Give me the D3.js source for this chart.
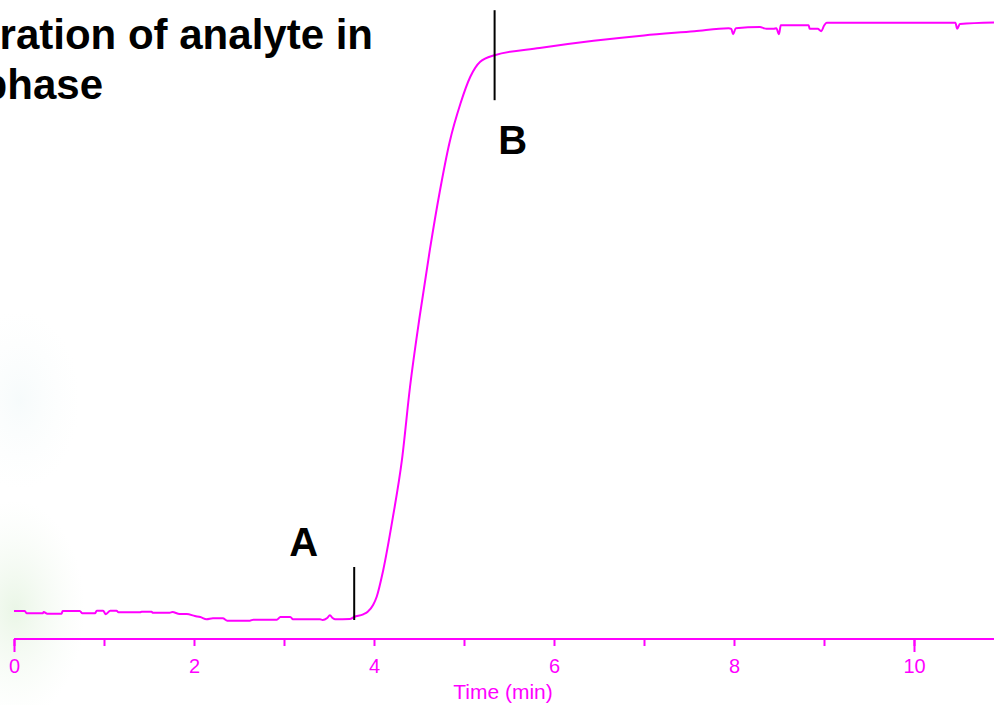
<!DOCTYPE html>
<html><head><meta charset="utf-8">
<script src="https://cdn.jsdelivr.net/npm/d3@7"></script>
<style>html,body{margin:0;padding:0;background:#fff;overflow:hidden}svg{display:block}</style>
</head><body>
<svg id="c" width="994" height="705"></svg>
<script>
// Time (min)
const times = [0,0.12,0.14,0.32,0.33,0.37,0.53,0.54,0.73,0.76,0.9,0.92,0.99,1.02,1.07,1.14,1.16,1.4,1.42,1.53,1.54,1.73,1.76,1.84,1.92,2.01,2.07,2.14,2.21,2.32,2.37,2.62,2.66,2.92,2.96,3.07,3.1,3.4,3.43,3.48,3.51,3.54,3.57,3.73,3.78,3.88,3.93,3.99,4.03,4.1,4.21,4.31,4.4,4.51,4.62,4.73,4.84,4.96,5.07,5.18,5.34,5.84,6.44,7.0,7.56,7.94,7.97,7.99,8.02,8.29,8.33,8.36,8.44,8.47,8.5,8.52,8.83,8.84,8.93,8.97,9.0,9.03,10.46,10.48,10.51,10.89];
// Detector signal (arbitrary units)
const signal = [4.67,4.67,4.28,4.28,4.5,4.22,4.22,4.67,4.67,4.28,4.28,4.72,4.72,4.12,4.72,4.72,4.45,4.45,4.55,4.55,4.38,4.38,4.5,4.17,4.17,3.83,3.67,3.28,3.45,3.45,3.05,3.05,3.22,3.22,3.67,3.67,3.28,3.28,3.17,3.5,3.95,3.5,3.28,3.33,3.67,4.12,4.55,5.67,7.05,11.3,20.3,29.8,42,54,64.8,74.5,82.8,89.2,93.7,96.2,97.3,98.5,99.7,100.6,101.3,101.8,101.7,100.8,101.8,102,101.8,101.7,101.7,101.8,100.8,102.3,102.3,101.7,101.7,101.3,102.2,102.7,102.7,101.7,102.5,102.75];
const majorTicks = [0,10];
const minorTicks = [0,1,2,3,4,5,6,7,8,9,10];
const tickLabels = [0,2,4,6,8,10];
const xTitle = "Time (min)";
const titleLines = ["ration of analyte in","phase"];
const markerNames = ["A","B"];
const markerTimes = [3.78,5.34];
const markerLow = [3.17,89.8];
const markerHigh = [12,104.8];
const markerLabelTimes = [3.22,5.54];
const markerLabelValues = [13.8,80.8];

const svg = d3.select("#c");
const MAG = "#ff00ff";
const FONT = "Liberation Sans, Arial, sans-serif";
const x = d3.scaleLinear().domain([0,10.9]).range([14,995]);
const y = d3.scaleLinear().domain([0,105]).range([639,9]);

// faint decorative background
const defs = svg.append("defs");
const g1 = defs.append("radialGradient").attr("id","bg1");
g1.append("stop").attr("offset","0%").attr("stop-color","#dcf0d6").attr("stop-opacity",0.6);
g1.append("stop").attr("offset","100%").attr("stop-color","#eef8ec").attr("stop-opacity",0);
svg.append("ellipse").attr("cx",15).attr("cy",610).attr("rx",70).attr("ry",110).attr("fill","url(#bg1)");
const g2 = defs.append("radialGradient").attr("id","bg2");
g2.append("stop").attr("offset","0%").attr("stop-color","#eef7f8").attr("stop-opacity",0.5);
g2.append("stop").attr("offset","100%").attr("stop-color","#f7fbfa").attr("stop-opacity",0);
svg.append("ellipse").attr("cx",20).attr("cy",400).attr("rx",60).attr("ry",90).attr("fill","url(#bg2)");

// title
svg.append("g").selectAll("text").data(titleLines).join("text")
  .attr("x",(d,i)=> i===0?373:103).attr("y",(d,i)=>49+i*50)
  .attr("text-anchor","end")
  .attr("font-family",FONT).attr("font-weight","bold").attr("font-size",42)
  .attr("fill","#000").text(d=>d);

// axis
const ax = svg.append("g").attr("transform","translate(0,639)");
ax.call(d3.axisBottom(x).tickValues(minorTicks).tickSize(7).tickFormat(""));
ax.call(g=>g.select(".domain").remove());
ax.append("line").attr("x1",x(0)).attr("x2",994).attr("stroke",MAG).attr("stroke-width",2);
ax.selectAll(".tick line").attr("stroke",MAG).attr("stroke-width",2);
const ax2 = svg.append("g").attr("transform","translate(0,639)");
ax2.call(d3.axisBottom(x).tickValues(majorTicks).tickSize(13).tickFormat(""));
ax2.select(".domain").remove();
ax2.selectAll(".tick line").attr("stroke",MAG).attr("stroke-width",2);
const ax3 = svg.append("g").attr("transform","translate(0,639)");
ax3.call(d3.axisBottom(x).tickValues(tickLabels).tickSize(0).tickPadding(20).tickFormat(d3.format("d")));
ax3.select(".domain").remove();
ax3.selectAll("text").attr("fill",MAG).attr("font-family",FONT).attr("font-size",20);
svg.append("text").attr("x",503).attr("y",699).attr("text-anchor","middle")
  .attr("font-family",FONT).attr("font-size",21).attr("fill",MAG).text(xTitle);

// trace
const pts = times.map((t,i)=>[t,signal[i]]);
svg.append("path").datum(pts)
  .attr("d", d3.line().x(d=>x(d[0])).y(d=>y(d[1])).curve(d3.curveMonotoneX))
  .attr("fill","none").attr("stroke",MAG).attr("stroke-width",2);

// markers
markerNames.forEach((n,i)=>{
  svg.append("line").attr("x1",x(markerTimes[i])).attr("x2",x(markerTimes[i]))
    .attr("y1",y(markerLow[i])).attr("y2",y(markerHigh[i])).attr("stroke","#000").attr("stroke-width",2);
  svg.append("text").attr("x",x(markerLabelTimes[i])).attr("y",y(markerLabelValues[i]))
    .attr("text-anchor","middle").attr("font-family",FONT)
    .attr("font-weight","bold").attr("font-size",40).attr("fill","#000").text(n);
});
</script>
</body></html>
